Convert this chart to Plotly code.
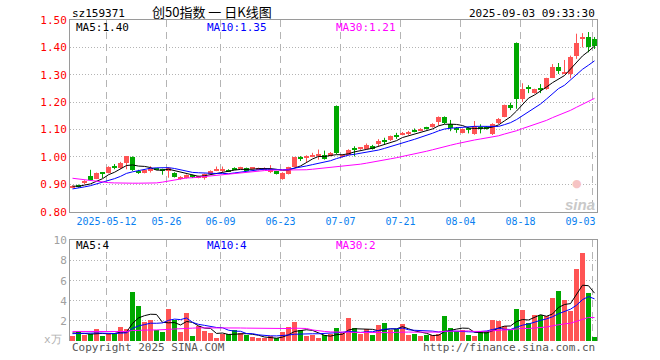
import plotly.graph_objects as go
import pandas as pd

# ---------------- data ----------------
dates = ["04-29","04-30","05-06","05-07","05-08","05-09",
 "05-12","05-13","05-14","05-15","05-16",
 "05-19","05-20","05-21","05-22","05-23",
 "05-26","05-27","05-28","05-29","05-30",
 "06-03","06-04","06-05","06-06",
 "06-09","06-10","06-11","06-12","06-13",
 "06-16","06-17","06-18","06-19","06-20",
 "06-23","06-24","06-25","06-26","06-27",
 "06-30","07-01","07-02","07-03","07-04",
 "07-07","07-08","07-09","07-10","07-11",
 "07-14","07-15","07-16","07-17","07-18",
 "07-21","07-22","07-23","07-24","07-25",
 "07-28","07-29","07-30","07-31","08-01",
 "08-04","08-05","08-06","08-07","08-08",
 "08-11","08-12","08-13","08-14","08-15",
 "08-18","08-19","08-20","08-21","08-22",
 "08-25","08-26","08-27","08-28","08-29",
 "09-01","09-02","09-03"]

open_ = [0.888,0.897,0.903,0.931,0.921,0.944,0.941,0.967,0.958,0.978,
 1.000,0.950,0.943,0.948,0.958,0.955,0.950,0.942,0.920,0.924,
 0.931,0.925,0.923,0.938,0.950,0.951,0.953,0.958,0.958,0.959,
 0.956,0.953,0.955,0.945,0.947,0.920,0.938,0.965,0.997,0.998,
 1.001,1.005,1.006,1.004,1.186,1.002,1.008,1.030,1.029,1.030,
 1.040,1.046,1.058,1.061,1.079,1.081,1.087,1.100,1.096,1.107,
 1.109,1.127,1.146,1.121,1.106,1.089,1.106,1.083,1.110,1.108,
 1.083,1.123,1.147,1.189,1.417,1.211,1.252,1.233,1.249,1.247,
 1.290,1.327,1.306,1.302,1.370,1.432,1.439,1.431]
high = [0.896,0.899,0.915,0.953,0.943,0.945,0.966,0.974,0.982,1.003,
 1.002,0.953,0.955,0.966,0.960,0.957,0.963,0.944,0.930,0.936,
 0.935,0.932,0.939,0.951,0.965,0.965,0.955,0.962,0.964,0.961,
 0.961,0.961,0.962,0.970,0.949,0.944,0.964,1.000,1.003,1.006,
 1.015,1.027,1.023,1.018,1.188,1.010,1.028,1.039,1.035,1.049,
 1.044,1.065,1.070,1.078,1.088,1.091,1.095,1.104,1.105,1.110,
 1.123,1.148,1.148,1.135,1.109,1.104,1.109,1.131,1.119,1.112,
 1.123,1.142,1.191,1.198,1.418,1.269,1.262,1.249,1.266,1.289,
 1.339,1.343,1.354,1.370,1.450,1.452,1.456,1.438]
low = [0.886,0.888,0.900,0.914,0.919,0.923,0.940,0.955,0.955,0.955,
 0.949,0.938,0.940,0.943,0.953,0.935,0.924,0.925,0.917,0.921,
 0.923,0.922,0.917,0.936,0.948,0.945,0.945,0.952,0.955,0.950,
 0.954,0.951,0.953,0.941,0.936,0.917,0.936,0.963,0.985,0.978,
 0.999,0.990,0.990,1.002,1.010,0.998,1.005,1.002,1.026,1.027,
 1.027,1.040,1.045,1.058,1.066,1.079,1.080,1.090,1.094,1.100,
 1.107,1.115,1.120,1.094,1.088,1.086,1.086,1.081,1.086,1.100,
 1.080,1.120,1.145,1.171,1.176,1.201,1.233,1.231,1.233,1.245,
 1.288,1.303,1.305,1.287,1.358,1.400,1.382,1.394]
close = [0.894,0.891,0.913,0.917,0.941,0.940,0.964,0.958,0.979,1.002,
 0.951,0.943,0.952,0.958,0.955,0.951,0.960,0.927,0.928,0.934,
 0.927,0.930,0.937,0.949,0.953,0.956,0.947,0.955,0.961,0.952,
 0.960,0.959,0.960,0.956,0.938,0.943,0.962,0.998,0.994,1.001,
 1.008,1.008,0.994,1.016,1.015,1.007,1.026,1.028,1.033,1.043,
 1.029,1.060,1.055,1.076,1.077,1.086,1.090,1.094,1.103,1.103,
 1.121,1.146,1.123,1.105,1.098,1.102,1.101,1.114,1.104,1.105,
 1.121,1.140,1.189,1.177,1.211,1.247,1.249,1.247,1.246,1.287,
 1.327,1.315,1.311,1.365,1.415,1.438,1.400,1.405]
volume = [0.40,0.90,0.57,0.67,1.17,0.47,0.67,0.73,1.37,1.17,
 4.80,3.40,1.87,2.07,1.07,0.87,3.17,2.00,0.87,2.77,
 0.47,1.40,0.90,0.73,0.27,0.67,0.67,1.07,0.73,0.53,
 0.33,0.20,0.20,0.47,0.20,0.87,1.33,1.87,1.07,0.47,
 0.53,0.20,0.53,0.67,1.23,0.73,2.27,1.20,0.67,1.13,
 0.53,1.57,1.73,1.07,1.13,1.63,0.53,0.67,0.47,0.53,
 0.53,0.67,2.47,1.27,0.97,1.03,0.57,0.47,0.97,0.97,
 2.07,1.97,1.40,1.07,3.17,3.07,1.73,2.57,2.53,2.40,
 4.20,4.97,4.07,2.97,7.07,8.67,4.73,0.37]
# sessions before the visible window (needed for the moving averages)
prior_close = [0.981,1.003,1.007,1.031,1.000,1.024,0.988,1.009,1.002,0.951,
 0.943,0.952,0.958,0.925,0.861,0.840,0.777,0.808,0.874,0.897,
 0.862,0.868,0.872,0.878,0.884,0.896,0.890,0.895,0.893]
prior_volume = [0.9,0.6,0.7,1.2,0.5,0.7,0.8,1.3,1.2,1.8,
 2.4,1.6,1.8,1.0,0.9,1.4,0.8,0.7,0.5,0.4,
 0.6,0.7,0.6,0.7,0.7,0.9,0.8,1.0,0.9]

tick_dates = ["05-12","05-26","06-09","06-23","07-07","07-21","08-04","08-18","09-03"]
tick_text = ["2025-05-12","05-26","06-09","06-23","07-07","07-21","08-04","08-18",
             "09-03\u00a0\u00a0\u00a0\u00a0"]
price_ticks = [0.8,0.9,1.0,1.1,1.2,1.3,1.4,1.5]
vol_ticks = [2,4,6,8,10]

code = "sz159371"
title = "创50指数 一 日K线图"
stamp = "2025-09-03 09:33:30"

# ---------------- derived ----------------
n = len(dates)
idx = list(range(n))
cs = pd.Series(prior_close + close)
vs = pd.Series(prior_volume + volume)
ma = {w: cs.rolling(w).mean().tolist()[-n:] for w in (5, 10, 30)}
vma = {w: vs.rolling(w).mean().tolist()[-n:] for w in (5, 10, 30)}

UP = "#ff5454"
DN = "#00a800"
MA_COL = {5: "#000000", 10: "#0000ff", 30: "#ff00ff"}
up = [c >= o for o, c in zip(open_, close)]
colors = [UP if u else DN for u in up]

body_h, body_b = [], []
for o, c in zip(open_, close):
    h = abs(c - o)
    lo = min(o, c)
    if h < 0.004:
        lo = (o + c) / 2 - 0.002
        h = 0.004
    body_h.append(h)
    body_b.append(lo)

fig = go.Figure()
for flag, col in ((True, UP), (False, DN)):
    wx, wy = [], []
    for i in idx:
        if up[i] == flag:
            wx += [i, i, None]
            wy += [low[i], high[i], None]
    fig.add_trace(go.Scatter(x=wx, y=wy, mode="lines", line=dict(color=col, width=1),
                             xaxis="x", yaxis="y", hoverinfo="skip"))
fig.add_trace(go.Bar(x=idx, y=body_h, base=body_b, width=0.8, marker=dict(color=colors, line=dict(width=0)),
                     xaxis="x", yaxis="y"))
for w in (5, 10, 30):
    fig.add_trace(go.Scatter(x=idx, y=ma[w], mode="lines", line=dict(color=MA_COL[w], width=1),
                             xaxis="x", yaxis="y"))
fig.add_trace(go.Bar(x=idx, y=volume, width=0.82, marker=dict(color=colors, line=dict(width=0)),
                     xaxis="x2", yaxis="y2"))
for w in (5, 10, 30):
    fig.add_trace(go.Scatter(x=idx, y=vma[w], mode="lines", line=dict(color=MA_COL[w], width=1),
                             xaxis="x2", yaxis="y2"))

tickvals = [dates.index(d) - 0.33 for d in tick_dates]
xr = [-0.5 + 1 / 12, -0.5 + 1 / 12 + 527 / 6]
MONO = "DejaVu Sans Mono, Liberation Mono, monospace"
GRID = "#b4b4b4"
BORDER = "#9a9a9a"

fig.update_layout(
    width=660, height=360, paper_bgcolor="white", plot_bgcolor="white",
    margin=dict(l=70, r=63, t=20, b=19, autoexpand=False), showlegend=False, hovermode=False,
    bargap=0,
    xaxis=dict(domain=[0, 1], range=xr, anchor="y", tickvals=tickvals, ticktext=tick_text,
               showgrid=True, gridcolor=GRID, griddash="7px,5px", gridwidth=1, automargin=False,
               showline=True, mirror=True, linecolor=BORDER, linewidth=1, ticks="",
               tickfont=dict(family=MONO, size=10, color="#0a7ff0"), zeroline=False),
    yaxis=dict(domain=[0.4028, 1], range=[0.8, 1.5], tickvals=price_ticks, automargin=False,
               ticktext=[f"{v:.2f}" for v in price_ticks],
               showgrid=True, gridcolor=GRID, griddash="1px,2px", gridwidth=1,
               showline=True, mirror=True, linecolor=BORDER, linewidth=1, ticks="",
               tickfont=dict(family=MONO, size=11, color="#ff0000"), zeroline=False),
    xaxis2=dict(domain=[0, 1], range=xr, anchor="y2", side="top", tickvals=tickvals, automargin=False,
                showticklabels=False, showgrid=True, gridcolor=GRID, griddash="7px,5px", gridwidth=1,
                showline=True, mirror=False, linecolor=BORDER, linewidth=1, ticks="", zeroline=False),
    yaxis2=dict(domain=[0, 0.3131], range=[0, 10], tickvals=vol_ticks, automargin=False,
                showgrid=True, gridcolor=GRID, griddash="1px,2px", gridwidth=1,
                showline=True, mirror=True, linecolor=BORDER, linewidth=1, ticks="",
                tickfont=dict(family=MONO, size=11, color="#a0a0a0"), zeroline=False),
)

def note(text, x, y, color="#000", size=11, xanchor="left", family=MONO, **kw):
    fig.add_annotation(text=text, x=x, y=y, xref="paper", yref="paper", showarrow=False,
                       xanchor=xanchor, yanchor="middle", font=dict(family=family, size=size, color=color), **kw)

note(code, 0, 1.0218, size=11)
note(title, 0.27, 1.026, size=13, xanchor="center",
     family="Noto Sans CJK SC, sans-serif")
note(stamp, 1, 1.0218, size=11, xanchor="right")

note(f"MA5:{ma[5][-1]:.2f}", 0.0076, 0.976)
note(f"MA10:{ma[10][-1]:.2f}", 0.2562, 0.976, color=MA_COL[10])
note(f"MA30:{ma[30][-1]:.2f}", 0.501, 0.976, color=MA_COL[30])
note(f"MA5:{int(vma[5][-1])}", 0.0076, 0.296)
note(f"MA10:{int(vma[10][-1])}", 0.2562, 0.296, color=MA_COL[10])
note(f"MA30:{int(vma[30][-1])}", 0.501, 0.296, color=MA_COL[30])

note("x万", -0.012, 0.004, color="#b0b0b0", size=11, xanchor="right")
note("Copyright 2025 SINA.COM", 0, -0.019, color="#555555", size=11)
note("http://finance.sina.com.cn", 1, -0.019, color="#555555", size=11, xanchor="right")
note("<b><i>sina</i></b>", 1.0, 0.425, color="#c9c9c9", size=15, xanchor="right",
     family="Liberation Sans, Arial, sans-serif")
note("●", 0.962, 0.49, color="#f6c4c4", size=11, xanchor="center",
     family="DejaVu Sans, sans-serif")

fig.write_html("out.html", config={"displayModeBar": False},
               post_script="document.body.style.margin='0';")
